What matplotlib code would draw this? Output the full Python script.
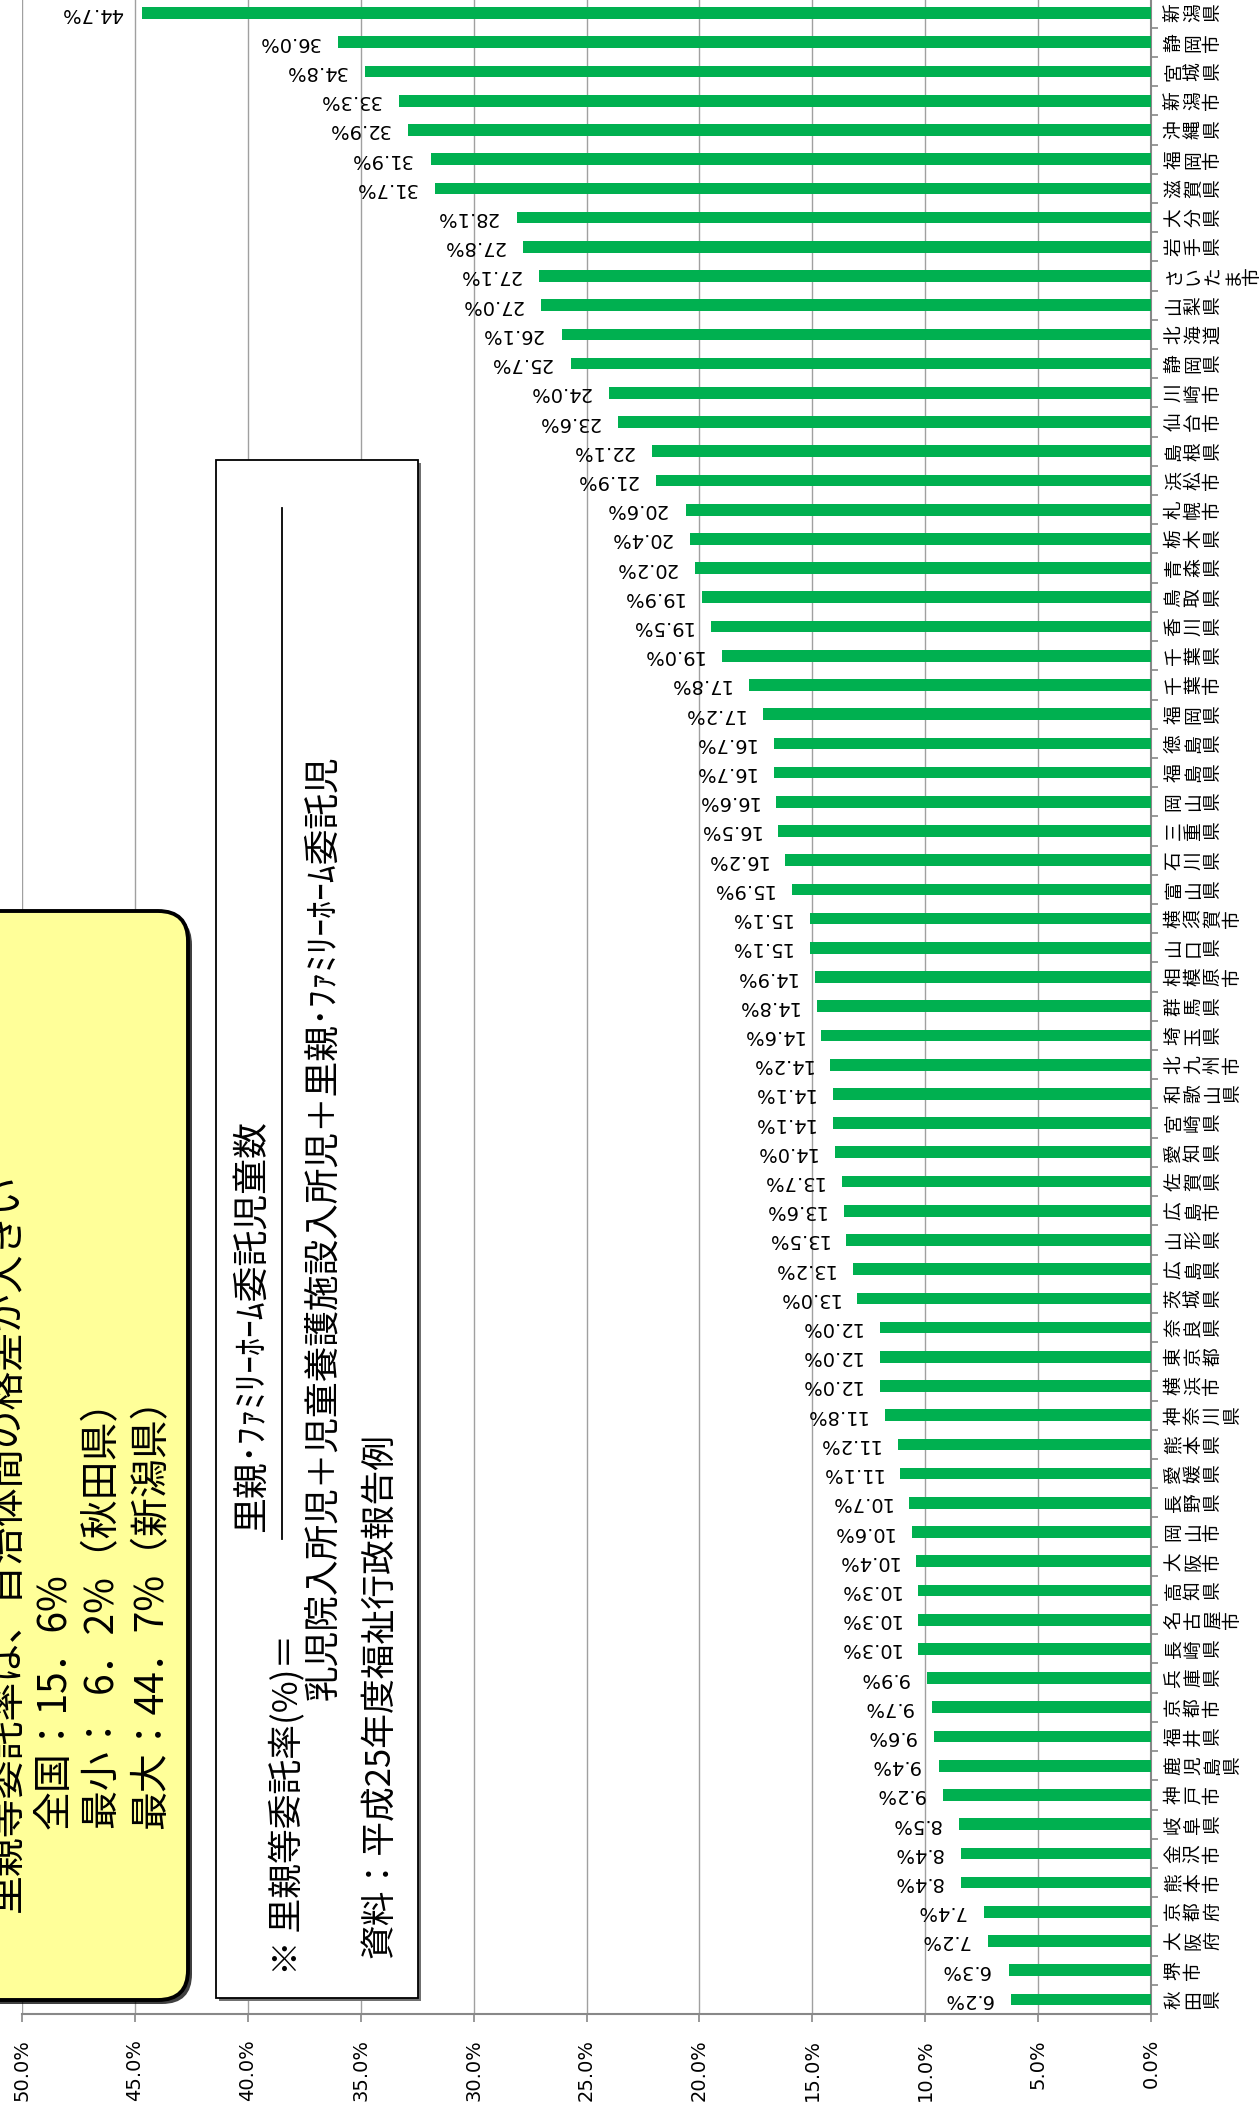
import matplotlib
matplotlib.use('Agg')
import matplotlib.pyplot as plt
from matplotlib.patches import FancyBboxPatch, Rectangle
from matplotlib.lines import Line2D

categories = ["新潟県", "静岡市", "宮城県", "新潟市", "沖縄県", "福岡市", "滋賀県", "大分県", "岩手県",
              "さいたま市", "山梨県", "北海道", "静岡県", "川崎市", "仙台市", "島根県", "浜松市", "札幌市",
              "栃木県", "青森県", "鳥取県", "香川県", "千葉県", "千葉市", "福岡県", "徳島県", "福島県",
              "岡山県", "三重県", "石川県", "富山県", "横須賀市", "山口県", "相模原市", "群馬県", "埼玉県",
              "北九州市", "和歌山県", "宮崎県", "愛知県", "佐賀県", "広島市", "山形県", "広島県", "茨城県",
              "奈良県", "東京都", "横浜市", "神奈川県", "熊本県", "愛媛県", "長野県", "岡山市", "大阪市",
              "高知県", "名古屋市", "長崎県", "兵庫県", "京都市", "福井県", "鹿児島県", "神戸市", "岐阜県",
              "金沢市", "熊本市", "京都府", "大阪府", "堺市", "秋田県"]
values = [44.7, 36.0, 34.8, 33.3, 32.9, 31.9, 31.7, 28.1, 27.8,
          27.1, 27.0, 26.1, 25.7, 24.0, 23.6, 22.1, 21.9, 20.6,
          20.4, 20.2, 19.9, 19.5, 19.0, 17.8, 17.2, 16.7, 16.7,
          16.6, 16.5, 16.2, 15.9, 15.1, 15.1, 14.9, 14.8, 14.6,
          14.2, 14.1, 14.1, 14.0, 13.7, 13.6, 13.5, 13.2, 13.0,
          12.0, 12.0, 12.0, 11.8, 11.2, 11.1, 10.7, 10.6, 10.4,
          10.3, 10.3, 10.3, 9.9, 9.7, 9.6, 9.4, 9.2, 8.5,
          8.4, 8.4, 7.4, 7.2, 6.3, 6.2]
x_ticks = [0, 5, 10, 15, 20, 25, 30, 35, 40, 45, 50]

summary_lines = ["里親等委託率は、自治体間の格差が大きい",
                 "全国：15．6%",
                 "最小：  6．2%（秋田県）",
                 "最大：44．7%（新潟県）"]
note_head = "※ 里親等委託率(%)＝"
note_num = "里親･ﾌｧﾐﾘｰﾎｰﾑ委託児童数"
note_den = "乳児院入所児＋児童養護施設入所児＋里親･ﾌｧﾐﾘｰﾎｰﾑ委託児"
note_src = "資料：平成25年度福祉行政報告例"

cjk = ['Noto Sans CJK JP', 'DejaVu Sans']

W, H = 1259, 2107
fig = plt.figure(figsize=(W / 100, H / 100), dpi=100)
L, R, T, B = 22, 1151, -1.5, 2014
ax = fig.add_axes([L / W, (H - B) / H, (R - L) / W, (B - T) / H])

n = len(categories)
ypos = list(range(n))
ax.barh(ypos, values, height=0.4, color='#00B050', zorder=3)
ax.set_xlim(50, 0)
ax.set_ylim(n - 0.5, -0.5)

ax.set_xticks(x_ticks)
ax.set_xticklabels([f'{t:.1f}%' for t in x_ticks], rotation=90, fontsize=14,
                   family='DejaVu Sans')
ax.grid(axis='x', color='#A0A0A0', lw=1.0, zorder=0)
ax.set_axisbelow(True)

for s in ['top', 'left']:
    ax.spines[s].set_visible(False)
for s in ['right', 'bottom']:
    ax.spines[s].set_color('#888888')
    ax.spines[s].set_linewidth(1.5)

ax.yaxis.tick_right()
ax.set_yticks([])
ax.set_yticks([i - 0.5 for i in range(n + 1)], minor=True)
ax.tick_params(axis='y', which='minor', right=True, left=False, length=5, width=1.2,
               color='#888888', direction='out')
ax.tick_params(axis='x', which='major', length=6, width=1.2, color='#888888',
               pad=12, direction='out')

for i, v in enumerate(values):
    ax.annotate(f'{v:.1f}%', xy=(v, i), xytext=(-13.5, 0), textcoords='offset points',
                rotation=180, ha='right', va='center', fontsize=14, family='DejaVu Sans',
                zorder=4)

ytr = ax.get_yaxis_transform()
for i, name in enumerate(categories):
    for k, ch in enumerate(name):
        ax.annotate(ch, xy=(1, i), xycoords=ytr, xytext=((23 + 19.5 * k) * 0.72, 0),
                    textcoords='offset points', rotation=90, ha='center', va='center',
                    fontsize=13.5, family=cjk, annotation_clip=False)

# overlay in pixel coordinates
ov = fig.add_axes([0, 0, 1, 1], zorder=5)
ov.set_xlim(0, W)
ov.set_ylim(H, 0)
ov.axis('off')
ov.patch.set_alpha(0)

# yellow summary box
bx, by, bw, bh = -60, 911, 248, 1089
ov.add_patch(FancyBboxPatch((bx + 4, by + 4), bw, bh, boxstyle='round,pad=0,rounding_size=30',
                            fc='black', ec='none', alpha=0.75))
ov.add_patch(FancyBboxPatch((bx, by), bw, bh, boxstyle='round,pad=0,rounding_size=30',
                            fc='#FFFF99', ec='black', lw=2.8))
ov.text(7, 1912, summary_lines[0], rotation=90, ha='center', va='bottom', fontsize=28, family=cjk)
for j, line in enumerate(summary_lines[1:]):
    ov.text(55 + 48 * j, 1829, line, rotation=90, ha='center', va='bottom', fontsize=28, family=cjk)

# white note box
ov.add_patch(Rectangle((219, 463), 202, 1538, fc='#707070', ec='none'))
ov.add_patch(Rectangle((216, 460), 202, 1538, fc='white', ec='black', lw=1.3))
ov.text(287, 1975, note_head, rotation=90, ha='center', va='bottom', fontsize=25, family=cjk)
ov.text(252, 1532, note_num, rotation=90, ha='center', va='bottom', fontsize=25.8, family=cjk)
ov.add_line(Line2D([282, 282], [508, 1539], color='black', lw=1.3))
ov.text(323, 1700, note_den, rotation=90, ha='center', va='bottom', fontsize=25.7, family=cjk)
ov.text(379, 1958, note_src, rotation=90, ha='center', va='bottom', fontsize=25, family=cjk)

fig.savefig('out.png', dpi=100)
